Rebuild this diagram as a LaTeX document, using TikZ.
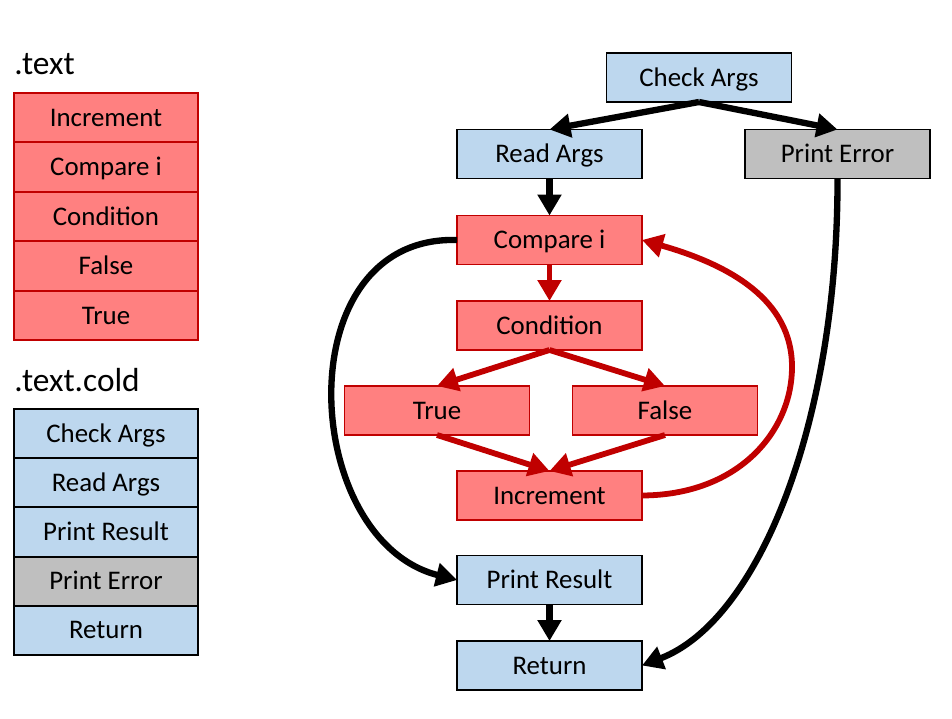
\documentclass[tikz,border=0pt]{standalone}
\usepackage{fontspec}
\setmainfont{Carlito}
\usetikzlibrary{positioning}
\usetikzlibrary{arrows.meta}
\definecolor{coldfill}{RGB}{189,215,238}
\definecolor{hotfill}{RGB}{255,128,128}
\definecolor{hotline}{RGB}{192,0,0}
\definecolor{errfill}{RGB}{191,191,191}

\begin{document}
\begin{tikzpicture}[
  x = 0.02cm, y = -0.02cm,
  block/.style = {draw, line width=1.1pt, minimum width=3.7cm, minimum height=0.98cm,
    inner sep=0pt, outer sep=0pt, font=\fontsize{15.3}{18}\selectfont,
    text height=9.8pt, text depth=0pt},
  cold/.style = {block, fill=coldfill},
  hot/.style = {block, fill=hotfill, draw=hotline},
  errbox/.style = {block, fill=errfill},
  textcol/.style = {minimum width=3.68cm, minimum height=0.99cm},
  coldcol/.style = {minimum width=3.68cm, minimum height=0.984cm},
  title/.style = {anchor=base west, inner sep=0pt, font=\fontsize{19}{22}\selectfont},
  flow/.style = {line width=3.6pt, ->},
  hotflow/.style = {flow, line width=3.3pt, color=hotline},
  >={Triangle[length=0.42cm, width=0.46cm]},
]

  \useasboundingbox (0,0) rectangle (952,719);

  % section .text
  \node[title] (hdtext) at (14,75) {.text};
  \node[hot, textcol] (tinc) at (106,117.5) {Increment};
  \node[hot, textcol, below=0pt of tinc] (tcmp) {Compare i};
  \node[hot, textcol, below=0pt of tcmp] (tcond) {Condition};
  \node[hot, textcol, below=0pt of tcond] (tfls) {False};
  \node[hot, textcol, below=0pt of tfls] (ttru) {True};

  % section .text.cold
  \node[title] (hdcold) at (14,391) {.text.cold};
  \node[cold, coldcol] (cchk) at (106,433.6) {Check Args};
  \node[cold, coldcol, below=0pt of cchk] (crd) {Read Args};
  \node[cold, coldcol, below=0pt of crd] (cres) {Print Result};
  \node[errbox, coldcol, below=0pt of cres] (cerr) {Print Error};
  \node[cold, coldcol, below=0pt of cerr] (cret) {Return};

  % flow graph
  \node[cold] (chk) at (699,77.5) {Check Args};
  \node[cold] (rd) at (549.5,154) {Read Args};
  \node[errbox] (err) at (837.5,154) {Print Error};
  \node[hot] (cmp) at (549.5,240) {Compare i};
  \node[hot] (cond) at (549.5,325.5) {Condition};
  \node[hot] (tru) at (437,410.5) {True};
  \node[hot] (fls) at (665,410.5) {False};
  \node[hot] (inc) at (549.5,495.5) {Increment};
  \node[cold] (res) at (549.5,580) {Print Result};
  \node[cold] (ret) at (549.5,665.5) {Return};

  \coordinate (loopR) at (792,367);

  \draw[flow] (chk.south) -- (rd.north);
  \draw[flow] (chk.south) -- (err.north);
  \draw[flow] (rd.south) -- (cmp.north);
  \draw[flow] (res.south) -- (ret.north);

  \draw[hotflow] (cmp.south) -- (cond.north);
  \draw[hotflow] (cond.south) -- (tru.north);
  \draw[hotflow] (cond.south) -- (fls.north);
  \draw[hotflow] (tru.south) -- (inc.north);
  \draw[hotflow] (fls.south) -- (inc.north);

  % back edge and exits
  \draw[hotflow] (inc.east) .. controls (740,495) and (792,430) .. (loopR)
    .. controls (792,300) and (730,265) .. (cmp.east);
  \draw[flow] (cmp.west) .. controls (285,235) and (300,540) .. (res.west);
  \draw[flow] (err.south) .. controls (838,420) and (760,620) .. (ret.east);

\end{tikzpicture}
\end{document}
